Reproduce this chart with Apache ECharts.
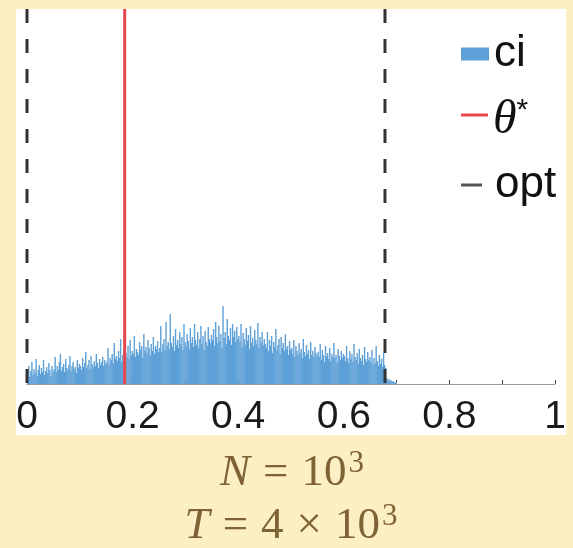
<!DOCTYPE html>
<html>
<head>
<meta charset="utf-8">
<script src="https://cdn.jsdelivr.net/npm/echarts@6/dist/echarts.min.js"></script>
<style>
  html, body { margin: 0; padding: 0; background: #fcefc4; }
  #chart { width: 573px; height: 548px; }
</style>
</head>
<body>
<div id="chart"></div>
<script>
// ---- data ----
const binWidth = 0.002;            // histogram bin width
const ciCounts = [
  // 0.00 - 0.05
  10,18,7,13,22,9,15,11,25,8,14,19,10,16,12,24,9,13,17,11,21,14,8,18,12,
  // 0.05 - 0.10
  15,27,12,18,14,22,30,13,17,20,12,25,16,14,19,28,13,18,22,15,17,11,24,16,20,
  // 0.10 - 0.15
  18,14,26,17,21,32,16,19,24,15,28,20,17,23,18,30,21,16,25,19,22,27,18,24,20,
  // 0.15 - 0.20
  22,36,19,26,24,30,21,41,25,28,23,33,26,45,22,29,35,24,31,27,38,25,44,29,33,
  // 0.20 - 0.25
  30,48,27,35,32,29,42,34,38,26,50,33,37,31,44,36,28,40,33,47,30,38,35,43,32,
  // 0.25 - 0.30
  36,58,32,40,45,34,62,38,42,35,70,41,37,48,33,55,39,44,36,52,40,47,34,60,42,
  // 0.30 - 0.35
  38,50,43,35,56,41,47,37,60,44,39,52,36,45,58,40,48,34,53,42,38,57,45,41,49,
  // 0.35 - 0.40
  44,55,38,62,47,41,58,43,50,36,78,46,52,40,65,48,44,56,39,60,47,53,42,57,45,
  // 0.40 - 0.45
  48,42,60,37,51,45,39,56,43,49,35,58,41,46,38,54,44,40,61,36,47,42,52,39,45,
  // 0.45 - 0.50
  40,36,52,33,44,38,48,31,42,37,55,34,39,45,30,47,36,41,33,50,35,38,29,43,34,
  // 0.50 - 0.55
  36,30,44,27,38,33,29,41,31,35,26,45,32,28,39,30,34,25,42,29,33,27,37,31,28,
  // 0.55 - 0.60
  32,27,40,24,34,29,22,38,28,31,25,36,23,30,27,41,26,29,21,35,28,24,33,26,30,
  // 0.60 - 0.65
  28,23,38,26,21,33,25,30,22,40,27,24,31,20,35,26,23,29,19,37,25,22,32,24,27,
  // 0.65 - 0.70
  22,34,19,26,21,38,23,18,29,20,25,17,31,19,16,6,4,5,3,4,2,3,2,1,2
];
const thetaStar = 0.185;            // red line
const optBounds = [0, 0.678];        // dashed lines
const yMax = 375;
const xMin = 0, xMax = 1, xInterval = 0.2;
const captionLine1 = ['N', '=', '10', '3'];
const captionLine2 = ['T', '=', '4', '×', '10', '3'];

const histData = ciCounts.map((c, i) => [i * binWidth, (i + 1) * binWidth, c]);
const thetaData = [[thetaStar, yMax], [thetaStar, 0]];
const optData = [];
optBounds.forEach((b, i) => {
  if (i > 0) optData.push([b, null]);
  optData.push([b, yMax], [b, 0]);
});

const capColor = '#806334';
const capRich = {
  i: { fontFamily: 'Liberation Serif', fontStyle: 'italic', fontSize: 45, fill: capColor },
  op: { fontFamily: 'Liberation Serif', fontSize: 45, fill: capColor, padding: [0, 13, 0, 13] },
  r: { fontFamily: 'Liberation Serif', fontSize: 45, fill: capColor },
  s: { fontFamily: 'Liberation Serif', fontSize: 31, fill: capColor, verticalAlign: 'top', padding: [0, 0, 18, 2] }
};
const line1Text = '{i|' + captionLine1[0] + '}{op|' + captionLine1[1] + '}{r|' + captionLine1[2] + '}{s|' + captionLine1[3] + '}';
const line2Text = '{i|' + captionLine2[0] + '}{op|' + captionLine2[1] + '}{r|' + captionLine2[2] + '}{op|' + captionLine2[3] + '}{r|' + captionLine2[4] + '}{s|' + captionLine2[5] + '}';

const chart = echarts.init(document.getElementById('chart'));
const option = {
  backgroundColor: 'transparent',
  animation: false,
  graphic: [
    { type: 'rect', z: -10, silent: true,
      shape: { x: 16, y: 9, width: 550, height: 426 },
      style: { fill: '#ffffff' } },
    { type: 'text', x: 292, y: 473, silent: true,
      style: { text: line1Text, align: 'center', verticalAlign: 'middle', rich: capRich } },
    { type: 'text', x: 291, y: 526, silent: true,
      style: { text: line2Text, align: 'center', verticalAlign: 'middle', rich: capRich } }
  ],
  grid: { left: 27, right: 18, top: 9, bottom: 164 },
  xAxis: [
    {
      type: 'value', min: xMin, max: xMax, interval: xInterval,
      axisLine: { show: false },
      splitLine: { show: false },
      axisTick: { show: true, inside: true, length: 4, lineStyle: { color: '#444', width: 1 } },
      minorTick: { show: true, splitNumber: 2, length: 4, lineStyle: { color: '#444', width: 1 } },
      axisLabel: { fontFamily: 'Liberation Sans', fontSize: 39, color: '#1a1a1a', margin: 14 }
    },
    {
      type: 'value', min: -0.021, max: 1.021, position: 'bottom',
      axisLine: { show: true, lineStyle: { color: '#9a9a9a', width: 1 } },
      axisTick: { show: false }, axisLabel: { show: false }, splitLine: { show: false }
    }
  ],
  yAxis: { type: 'value', min: 0, max: yMax, show: false, splitLine: { show: false } },
  legend: [
    { data: [{ name: 'ci', icon: 'rect' }], left: 456, top: 27, itemWidth: 28, itemHeight: 13,
      selectedMode: false,
      textStyle: { fontFamily: 'Liberation Sans', fontSize: 44, color: '#111', padding: [14, 0, 0, 0] } },
    { data: [{ name: 'theta', icon: 'rect' }], left: 456, top: 91, itemWidth: 27, itemHeight: 3,
      selectedMode: false,
      formatter: () => '{t|θ}{s|*}',
      textStyle: { color: '#111', padding: [10, 0, 0, 0],
        rich: {
          t: { fontFamily: 'Liberation Serif', fontStyle: 'italic', fontSize: 48, color: '#111' },
          s: { fontFamily: 'Liberation Sans', fontSize: 30, color: '#111', verticalAlign: 'top', padding: [0, 0, 14, 0] }
        } } },
    { data: [{ name: 'opt', icon: 'rect', itemStyle: { color: '#555' } }], left: 456, top: 158, itemWidth: 21, itemHeight: 3,
      selectedMode: false,
      textStyle: { fontFamily: 'Liberation Sans', fontSize: 44, color: '#111', padding: [2, 0, 0, 8] } }
  ],
  series: [
    {
      name: 'ci', type: 'custom', xAxisIndex: 0,
      itemStyle: { color: '#5da0d7' },
      encode: { x: [0, 1], y: 2 },
      data: histData,
      renderItem: function (params, api) {
        const p0 = api.coord([api.value(0), api.value(2)]);
        const p1 = api.coord([api.value(1), 0]);
        return { type: 'rect',
          shape: { x: p0[0], y: p0[1], width: p1[0] - p0[0] + 0.35, height: p1[1] - p0[1] },
          style: { fill: api.visual('color') } };
      },
      z: 2
    },
    {
      name: 'theta', type: 'line', xAxisIndex: 0, data: thetaData,
      symbol: 'none', color: '#e8464d',
      lineStyle: { color: '#e8464d', width: 3 }, z: 4
    },
    {
      name: 'opt', type: 'line', xAxisIndex: 0, data: optData,
      symbol: 'none', color: '#333', connectNulls: false,
      lineStyle: { color: '#333', width: 3, type: [14, 16] }, z: 5
    }
  ]
};
chart.setOption(option);
</script>
</body>
</html>
